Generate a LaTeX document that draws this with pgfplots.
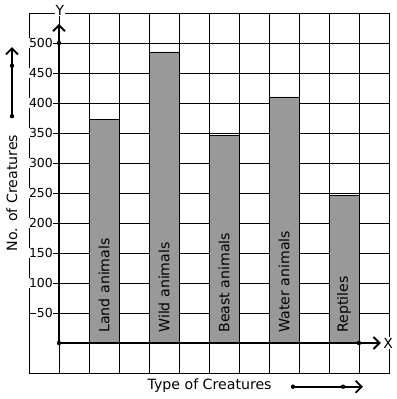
\documentclass[border=0pt]{standalone}
\usepackage{pgfplots}
\pgfplotsset{compat=1.18}
\usepackage{fontspec}
\setmainfont{DejaVu Sans}
\usetikzlibrary{arrows.meta}
\definecolor{bargray}{RGB}{153,153,153}
\begin{document}
\begin{tikzpicture}[barb/.style={-{Straight Barb[length=6bp,width=12bp]}}]
\begin{axis}[
  x=30bp, y=0.6bp,
  xmin=-1, xmax=11, ymin=-50, ymax=550,
  xtick={0,...,10}, xticklabels={},
  ytick={50,100,...,500},
  yticklabels={50,100,150,200,250,300,350,400,450,500},
  grid=major, major grid style={black, line width=0.9bp},
  major tick length=0pt,
  axis line style={black, line width=0.9bp},
  yticklabel style={font=\fontsize{12.5}{12.5}\selectfont, fill=white, inner sep=0.5pt, anchor=east, xshift=24.5bp},
  clip=false,
]
\addplot[ybar, bar width=1, fill=bargray, draw=black, line width=0.9bp]
  coordinates {(1.5,373) (3.5,485) (5.5,346) (7.5,410) (9.5,246)};
\coordinate (bbl) at (axis cs:-1.9667,-93.33);
\coordinate (btr) at (axis cs:11.2667,571.67);
% axes
\draw[line width=2bp, barb] (axis cs:0,0) -- (axis cs:0,532);
\draw[line width=2bp, barb] (axis cs:0,0) -- (axis cs:10.73,0);
\fill (axis cs:0,0) circle[radius=2.2bp];
\fill (axis cs:0,500) circle[radius=2.2bp];
\fill (axis cs:10,0) circle[radius=2.2bp];
\node[fill=white, inner sep=0.5pt, font=\fontsize{14}{14}\selectfont] at (axis cs:0.03,555) {Y};
\node[fill=white, inner sep=0.5pt, font=\fontsize{14}{14}\selectfont] at (axis cs:10.97,0) {X};
% bar labels
\node[rotate=90, anchor=west, inner sep=0pt, font=\fontsize{14.2}{14}\selectfont] at (axis cs:1.5,17) {Land animals};
\node[rotate=90, anchor=west, inner sep=0pt, font=\fontsize{14.2}{14}\selectfont] at (axis cs:3.5,17) {Wild animals};
\node[rotate=90, anchor=west, inner sep=0pt, font=\fontsize{14.2}{14}\selectfont] at (axis cs:5.5,17) {Beast animals};
\node[rotate=90, anchor=west, inner sep=0pt, font=\fontsize{14.2}{14}\selectfont] at (axis cs:7.5,17) {Water animals};
\node[rotate=90, anchor=west, inner sep=0pt, font=\fontsize{14.2}{14}\selectfont] at (axis cs:9.5,17) {Reptiles};
% axis titles
\node[rotate=90, anchor=base, inner sep=0pt, font=\fontsize{14.2}{14}\selectfont] at (axis cs:-1.4,250) {No. of Creatures};
\node[anchor=base, inner sep=0pt, font=\fontsize{14.2}{14}\selectfont] at (axis cs:5.02,-78.3) {Type of Creatures};
% decorative arrows
\draw[line width=1.8bp, barb] (axis cs:-1.567,378) -- (axis cs:-1.567,493);
\fill (axis cs:-1.567,378) circle[radius=2.2bp];
\fill (axis cs:-1.567,462) circle[radius=2.2bp];
\draw[line width=1.8bp, barb] (axis cs:7.8,-72.8) -- (axis cs:10.13,-72.8);
\fill (axis cs:7.8,-72.8) circle[radius=2.2bp];
\fill (axis cs:9.47,-72.8) circle[radius=2.2bp];
\end{axis}
\pgfresetboundingbox
\path (bbl) rectangle (btr);
\end{tikzpicture}
\end{document}
